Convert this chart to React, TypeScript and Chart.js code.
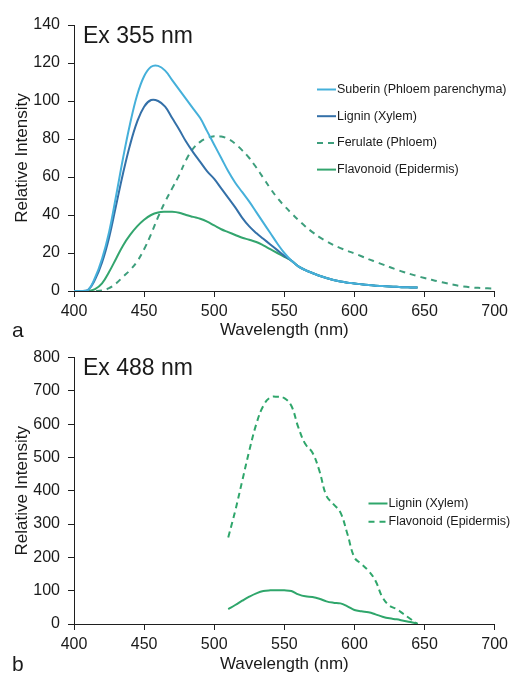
import React, { useEffect, useRef } from 'react';
import { Chart, registerables } from 'chart.js';

Chart.register(...registerables);

const FONT = "'Liberation Sans', Arial, Helvetica, sans-serif";
const TEXT = '#1a1a1a';
const AXIS = '#1f1f1f';

// ---------- Panel a : Ex 355 nm ----------
const wavelengthsA = [
  400, 405, 410, 415, 420, 425, 430, 435, 440, 445, 450, 455, 460, 465, 470, 475, 480, 485, 490, 495,
  500, 505, 510, 515, 520, 525, 530, 535, 540, 545, 550, 555, 560, 565, 570, 575, 580, 585, 590, 595,
  600, 605, 610, 615, 620, 625, 630, 635, 640, 645,
];
const suberin = [
  0, 0, 0.5, 7, 17, 31, 50, 70, 88, 103, 113, 118, 118.5, 116, 111, 106, 101, 96, 91, 84,
  77, 70, 63, 57, 52, 47, 41.5, 36, 30.5, 25, 20, 16, 13, 11, 9.5, 8, 6.8, 5.8, 5, 4.4,
  4, 3.5, 3.1, 2.8, 2.6, 2.4, 2.2, 2, 1.9, 1.8,
];
const lignin = [
  0, 0, 0.5, 6, 15, 28, 45, 62, 77, 89, 97, 100.5, 100, 97, 91, 85, 78.5, 73, 68, 63,
  59, 54, 49, 44, 38.5, 34, 30.5, 27.5, 24.5, 21.5, 18.5, 16, 13, 11, 9.5, 8, 6.8, 5.8, 5, 4.4,
  4, 3.5, 3.1, 2.8, 2.6, 2.4, 2.2, 2, 1.9, 1.8,
];
const flavonoid = [
  0, 0, 0, 1, 4, 10, 17, 24, 29.5, 34, 37.5, 40, 41.3, 41.7, 41.7, 41.2, 40, 39, 38, 36.5,
  34.5, 32.5, 31, 29.5, 28, 27, 25.8, 24, 22, 20, 18, 16, 13, 11, 9.5, 8, 6.8, 5.8, 5, 4.4,
  4, 3.5, 3.1, 2.8, 2.6, 2.4, 2.2, 2, 1.9, 1.8,
];
const wavelengthsFerulate = [
  400, 405, 410, 415, 420, 425, 430, 435, 440, 445, 450, 455, 460, 465, 470, 475, 480, 485, 490, 495,
  500, 505, 510, 515, 520, 525, 530, 535, 540, 545, 550, 555, 560, 565, 570, 575, 580, 585, 590, 595,
  600, 605, 610, 615, 620, 625, 630, 635, 640, 645, 650, 655, 660, 665, 670, 675, 680, 685, 690, 695, 700,
];
const ferulate = [
  0, 0, 0, 0, 0.3, 1.5, 4, 7.5, 11, 15.5, 22, 30, 39, 47, 54, 61, 69, 75, 78.5, 80.5,
  81.5, 81.3, 80, 77.5, 74, 70, 65, 59.5, 54, 49, 44.8, 41, 37.4, 34, 31, 28.4, 26.2, 24.2, 22.6, 21.1,
  19.8, 18.3, 16.8, 15.4, 14, 12.6, 11.3, 10, 8.9, 7.8, 6.8, 5.9, 5, 4.2, 3.4, 2.7, 2.2, 1.8, 1.6, 1.4, 1.3,
];

// ---------- Panel b : Ex 488 nm ----------
const wavelengthsB = [
  510, 515, 520, 525, 530, 535, 540, 545, 550, 555, 560, 565, 570, 575, 580, 585, 590, 595,
  600, 605, 610, 615, 620, 625, 630, 635, 640, 645,
];
const ligninB = [
  45, 57, 70, 82, 92, 99, 101, 101, 101, 99, 89, 83, 81, 76, 68, 64, 62, 53,
  42, 38, 35, 29, 22, 17, 14, 10, 6, 1,
];
const flavonoidB = [
  260, 340, 430, 520, 600, 655, 680, 682, 678, 655, 590, 540, 515, 460, 385, 360, 335, 270,
  200, 180, 160, 130, 80, 55, 45, 30, 15, 0,
];

const COLORS = {
  suberin: '#45b0da',
  lignin: '#3470a8',
  ferulate: '#3d9e7c',
  flavonoid: '#33a56e',
  green: '#2fa66b',
};

const pts = (xs: number[], ys: number[]) => xs.map((x, i) => ({ x, y: ys[i] }));

type Extra = {
  title: string; titleX: number; titleY: number;
  panel: string; panelX: number; panelY: number;
  legendX: number; legendY: number; legendGap: number;
};

const textPlugin = (e: Extra) => ({
  id: 'panelText',
  afterDraw(chart: any) {
    const ctx = chart.ctx as CanvasRenderingContext2D;
    ctx.save();
    ctx.fillStyle = TEXT;
    ctx.textAlign = 'left';
    ctx.textBaseline = 'alphabetic';
    ctx.font = `23px ${FONT}`;
    ctx.fillText(e.title, e.titleX, e.titleY);
    ctx.font = `21px ${FONT}`;
    ctx.fillText(e.panel, e.panelX, e.panelY);
    ctx.font = `12.5px ${FONT}`;
    ctx.textBaseline = 'middle';
    chart.data.datasets.forEach((ds: any, i: number) => {
      const y = e.legendY + i * e.legendGap;
      ctx.strokeStyle = ds.borderColor;
      ctx.lineWidth = 2;
      ctx.setLineDash(ds.borderDash && ds.borderDash.length ? [6, 5] : []);
      ctx.beginPath();
      ctx.moveTo(e.legendX, y);
      ctx.lineTo(e.legendX + 19, y);
      ctx.stroke();
      ctx.setLineDash([]);
      ctx.fillText(ds.label, e.legendX + 20, y);
    });
    ctx.restore();
  },
});

const lineDs = (label: string, data: any[], color: string, dash: number[] = []) => ({
  label,
  data,
  borderColor: color,
  backgroundColor: color,
  borderWidth: 2,
  borderDash: dash,
  pointRadius: 0,
  fill: false,
  tension: 0.4,
});

const scales = (yMax: number, yStep: number, xHeight: number, xTitlePadBottom: number) => ({
  x: {
    type: 'linear' as const,
    min: 400,
    max: 700,
    position: 'bottom' as const,
    ticks: { stepSize: 50, font: { family: FONT, size: 16 }, color: TEXT, padding: 5, maxRotation: 0, autoSkip: false },
    grid: { drawOnChartArea: false, drawTicks: true, tickLength: 6, color: AXIS, lineWidth: 1 },
    border: { display: true, color: AXIS, width: 1 },
    title: { display: true, text: 'Wavelength (nm)', font: { family: FONT, size: 17 }, color: TEXT, padding: { top: 0, bottom: xTitlePadBottom } },
    afterFit: (s: any) => { s.height = xHeight; },
  },
  y: {
    type: 'linear' as const,
    min: 0,
    max: yMax,
    ticks: { stepSize: yStep, font: { family: FONT, size: 16 }, color: TEXT, padding: 8 },
    grid: { drawOnChartArea: false, drawTicks: true, tickLength: 6, color: AXIS, lineWidth: 1 },
    border: { display: true, color: AXIS, width: 1 },
    title: { display: true, text: 'Relative Intensity', font: { family: FONT, size: 17 }, color: TEXT, padding: { top: 12, bottom: 0 } },
    afterFit: (s: any) => { s.width = 74; },
  },
});

function configA(): any {
  return {
    type: 'line',
    data: {
      datasets: [
        lineDs('Suberin (Phloem parenchyma)', pts(wavelengthsA, suberin), COLORS.suberin),
        lineDs('Lignin (Xylem)', pts(wavelengthsA, lignin), COLORS.lignin),
        lineDs('Ferulate (Phloem)', pts(wavelengthsFerulate, ferulate), COLORS.ferulate, [6, 5]),
        lineDs('Flavonoid (Epidermis)', pts(wavelengthsA, flavonoid), COLORS.flavonoid),
      ],
    },
    options: {
      responsive: false,
      animation: false,
      events: [],
      layout: { padding: { top: 25, right: 16, left: 0, bottom: 0 } },
      plugins: { legend: { display: false }, tooltip: { enabled: false } },
      scales: scales(140, 20, 50, 0),
    },
    plugins: [textPlugin({
      title: 'Ex 355 nm', titleX: 83, titleY: 43,
      panel: 'a', panelX: 12, panelY: 337,
      legendX: 317, legendY: 89.5, legendGap: 26.7,
    })],
  };
}

function configB(): any {
  return {
    type: 'line',
    data: {
      datasets: [
        lineDs('Lignin (Xylem)', pts(wavelengthsB, ligninB), COLORS.green),
        lineDs('Flavonoid (Epidermis)', pts(wavelengthsB, flavonoidB), COLORS.green, [6, 4]),
      ],
    },
    options: {
      responsive: false,
      animation: false,
      events: [],
      layout: { padding: { top: 19.5, right: 15.5, left: 0, bottom: 0 } },
      plugins: { legend: { display: false }, tooltip: { enabled: false } },
      scales: scales(800, 100, 49, -1.5),
    },
    plugins: [textPlugin({
      title: 'Ex 488 nm', titleX: 83, titleY: 37,
      panel: 'b', panelX: 12, panelY: 333,
      legendX: 368.5, legendY: 165.5, legendGap: 18.3,
    })],
  };
}

function ChartCanvas({ make, top, height }: { make: () => any; top: number; height: number }) {
  const ref = useRef<HTMLCanvasElement>(null);
  useEffect(() => {
    const chart = new Chart(ref.current as HTMLCanvasElement, make());
    return () => chart.destroy();
  }, [make]);
  return (
    <canvas
      ref={ref}
      width={513}
      height={height}
      style={{ position: 'absolute', left: 0, top, width: 513, height, display: 'block' }}
    />
  );
}

export default function App() {
  return (
    <div style={{ position: 'absolute', left: 0, top: 0, width: 513, height: 673, background: '#ffffff', overflow: 'hidden' }}>
      <ChartCanvas make={configA} top={0} height={341} />
      <ChartCanvas make={configB} top={338} height={335} />
    </div>
  );
}
